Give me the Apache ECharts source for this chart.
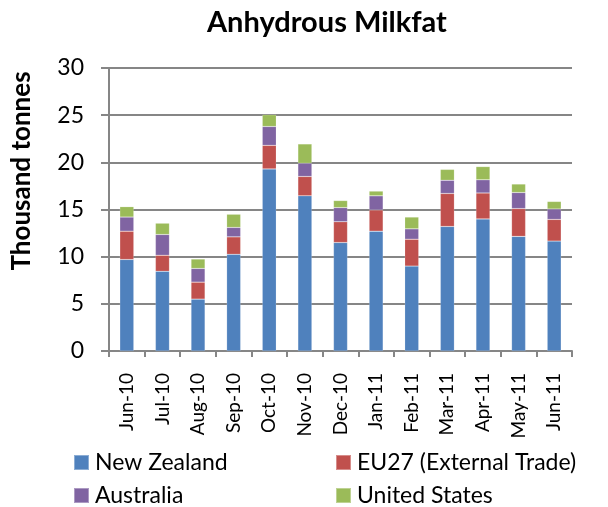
<!DOCTYPE html>
<html>
<head>
<meta charset="utf-8">
<script src="https://cdn.jsdelivr.net/npm/echarts@6/dist/echarts.min.js"></script>
<style>
html,body{margin:0;padding:0;background:#fff;}
#chart{width:608px;height:507px;}
</style>
</head>
<body>
<div id="chart"></div>
<script>
var categories = ['Jun-10','Jul-10','Aug-10','Sep-10','Oct-10','Nov-10','Dec-10','Jan-11','Feb-11','Mar-11','Apr-11','May-11','Jun-11'];
var newZealand = [9.7, 8.45, 5.5, 10.25, 19.3, 16.45, 11.5, 12.7, 9.0, 13.2, 14.0, 12.15, 11.65];
var eu27 = [3.0, 1.7, 1.8, 1.85, 2.5, 2.05, 2.2, 2.25, 2.85, 3.5, 2.75, 2.95, 2.3];
var australia = [1.5, 2.2, 1.45, 1.0, 2.0, 1.4, 1.5, 1.5, 1.1, 1.4, 1.4, 1.7, 1.1];
var unitedStates = [1.1, 1.2, 1.0, 1.4, 1.25, 2.05, 0.75, 0.5, 1.25, 1.15, 1.4, 0.9, 0.8];
var yTicks = [0, 5, 10, 15, 20, 25, 30];

var FONT = 'Lato';
var chart = echarts.init(document.getElementById('chart'), null, {renderer: 'canvas'});
function bar(name, data, color) {
  return {
    name: name, type: 'bar', stack: 'total', data: data, barWidth: 14,
    itemStyle: {color: color, borderColor: 'rgba(255,255,255,0.35)', borderWidth: 0.5},
    emphasis: {disabled: true}
  };
}
function leg(name, left, top) {
  return {
    data: [name], left: left, top: top, padding: 0,
    itemWidth: 15, itemHeight: 15, icon: 'rect', selectedMode: false,
    textStyle: {fontFamily: FONT, fontSize: 23, color: '#000', padding: [0, 0, 0, 1]}
  };
}
chart.setOption({
  animation: false,
  textStyle: {fontFamily: FONT},
  title: {
    text: 'Anhydrous Milkfat', left: 207, top: 8, padding: 0,
    textStyle: {fontFamily: FONT, fontWeight: 'bold', fontSize: 29, color: '#000'}
  },
  graphic: [{
    type: 'text', x: 22, y: 171, rotation: Math.PI / 2,
    style: {text: 'Thousand tonnes', fontFamily: FONT, fontWeight: 'bold', fontSize: 26, fill: '#000', align: 'center', verticalAlign: 'middle'}
  }],
  legend: [
    leg('New Zealand', 73, 451),
    leg('Australia', 73, 484),
    leg('EU27 (External Trade)', 335, 451),
    leg('United States', 335, 484)
  ],
  grid: {left: 109, right: 36, top: 68, bottom: 156, containLabel: false},
  xAxis: {
    type: 'category', data: categories, boundaryGap: true,
    axisLine: {lineStyle: {color: '#868686', width: 2}},
    axisTick: {show: true, length: 6, lineStyle: {color: '#868686', width: 2}},
    axisLabel: {rotate: 90, fontSize: 19, color: '#000', margin: 22, fontFamily: FONT, interval: 0}
  },
  yAxis: {
    type: 'value', min: 0, max: 30, interval: 5,
    axisLine: {show: true, lineStyle: {color: '#868686', width: 2}},
    axisTick: {show: true, length: 8, lineStyle: {color: '#868686', width: 2}},
    splitLine: {lineStyle: {color: '#868686', width: 2}},
    axisLabel: {fontSize: 23, color: '#000', margin: 25, fontFamily: FONT,
      formatter: function (v) { return yTicks.indexOf(v) >= 0 ? String(v) : ''; }}
  },
  series: [
    bar('New Zealand', newZealand, '#4F81BD'),
    bar('EU27 (External Trade)', eu27, '#C0504D'),
    bar('Australia', australia, '#8064A2'),
    bar('United States', unitedStates, '#9BBB59')
  ]
});
</script>
</body>
</html>
